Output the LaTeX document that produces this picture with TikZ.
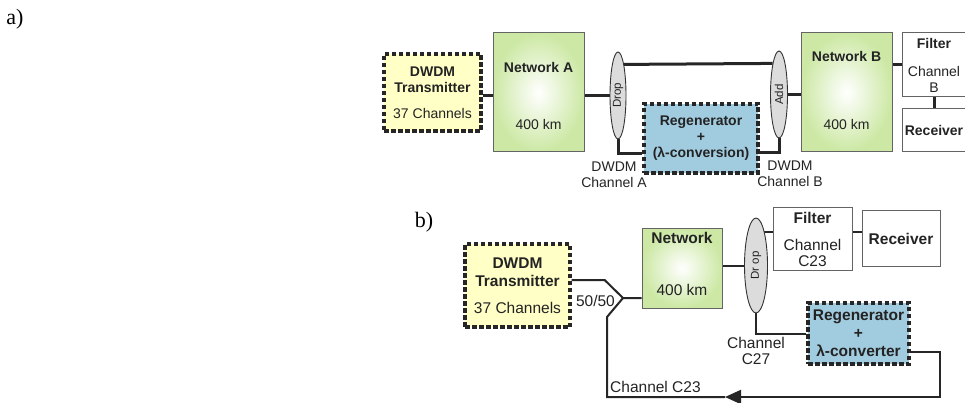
\documentclass[tikz,border=0pt]{standalone}
\usepackage{fontspec}
\setmainfont{Liberation Sans}
\newfontfamily\partfont{Liberation Serif}
\usetikzlibrary{positioning,shapes.geometric,arrows.meta,backgrounds}
\definecolor{txyellow}{RGB}{255,255,198}
\definecolor{netgreen}{RGB}{204,232,164}
\definecolor{regenblue}{RGB}{161,203,222}
\definecolor{oadmgrey}{RGB}{220,220,220}
\definecolor{inkgrey}{RGB}{35,35,35}
\definecolor{edgegrey}{RGB}{100,100,100}

\begin{document}
\begin{tikzpicture}[x=1pt, y=-1pt, font=\fontsize{14}{16}\selectfont, text=inkgrey,
        every node/.style={inner sep=0pt, align=center},
        dashbox/.style={draw=black!85, line width=3.2pt, dash pattern=on 4.5pt off 2.5pt},
        txbox/.style={dashbox, fill=txyellow},
        regenbox/.style={dashbox, fill=regenblue},
        netbox/.style={draw=edgegrey, line width=1pt, inner color=white, outer color=netgreen},
        plainbox/.style={draw=edgegrey, line width=1pt, fill=white},
        oadm/.style={ellipse, draw=black!80, line width=0.9pt, fill=oadmgrey},
        oadmtext/.style={rotate=90, font=\fontsize{11.5}{12}\selectfont},
        fibre/.style={draw=black!85, line width=3pt},
        thinfibre/.style={draw=black!85, line width=2pt},
        looptip/.style={-{Triangle[length=16pt,width=14pt]}},
        partlabel/.style={font=\partfont\fontsize{22}{24}\selectfont, text=black}]
            \path[use as bounding box] (0,0) rectangle (965,403);
            \clip (0,0) rectangle (965,403);

            % a)
            \node (parta) [partlabel] at (15,19) {a)};
            \node (txA) [txbox, minimum width=97pt, minimum height=77pt] at (432.5,92.5)
                {\textbf{DWDM}\\\textbf{Transmitter}\\[10pt]37 Channels};
            \node (netA) [netbox, minimum width=91pt, minimum height=119pt] at (538.5,92.5) {};
            \node (netAname) [below=30pt of netA.north] {\textbf{Network A}};
            \node (netAdist) [above=23pt of netA.south] {400 km};
            \node (dropA) [oadm, minimum width=16pt, minimum height=87pt] at (618,95.5) {};
            \node (dropAtext) [oadmtext] at (dropA) {Drop};
            \node (regenA) [regenbox, minimum width=114pt, minimum height=69pt] at (701,138.5)
                {\textbf{Regenerator}\\\textbf{+}\\\textbf{(λ-conversion)}};
            \node (addA) [oadm, minimum width=17pt, minimum height=87pt] at (779,94.5) {};
            \node (addAtext) [oadmtext] at (addA) {Add};
            \node (netB) [netbox, minimum width=91pt, minimum height=119pt] at (846.5,92.5) {};
            \node (netBname) [below=19pt of netB.north] {\textbf{Network B}};
            \node (netBdist) [above=23pt of netB.south] {400 km};
            \node (filterA) [plainbox, minimum width=64pt, minimum height=64pt] at (934,65)
                {\textbf{Filter}\\[12pt]Channel\\B};
            \node (rxA) [plainbox, minimum width=64pt, minimum height=43pt] at (934,130.5) {\textbf{Receiver}};
            \node (chanA) [below=22pt of dropA.south, xshift=-4pt] {DWDM\\Channel A};
            \node (chanB) [below=22pt of addA.south, xshift=11pt] {DWDM\\Channel B};

            \begin{scope}[on background layer]
                \draw[fibre] (txA.east |- dropA) -- (netA.west |- dropA);
                \draw[fibre] (netA.east |- dropA) -- (dropA.west);
                \draw[fibre] (dropA.north east) -- (addA.north west);
                \draw[fibre] (dropA.south) |- ([yshift=-15.5pt]regenA.west);
                \draw[fibre] (addA.south) |- ([yshift=-14.5pt]regenA.east);
                \draw[fibre] (addA.east) -- (addA.east -| netB.west);
                \draw[fibre] (netB.east |- filterA.west) -- (filterA.west);
                \draw[fibre] (filterA.south) -- (rxA.north);
            \end{scope}

            % b)
            \begin{scope}[font=\fontsize{15.5}{18}\selectfont]
                \node (partb) [partlabel] at (424,222) {b)};
                \node (txB) [txbox, minimum width=105pt, minimum height=83pt] at (517.5,285.5)
                    {\textbf{DWDM}\\\textbf{Transmitter}\\[9pt]37 Channels};
                \coordinate (split) at (623,298);
                \coordinate (loopR) at (940,397);
                \coordinate (loopTip) at (725,397);
                \coordinate (loopL) at (607,397);
                \node (netC) [netbox, minimum width=80pt, minimum height=80pt] at (682,268) {};
                \node (netCname) [below=5pt of netC.north] {\textbf{Network}};
                \node (netCdist) [above=12.5pt of netC.south] {400 km};
                \node (dropB) [oadm, minimum width=23pt, minimum height=95pt] at (756,265.5) {};
                \node (dropBtext) [oadmtext] at (dropB) {Dr op};
                \node (filterB) [plainbox, minimum width=79pt, minimum height=62pt] at (812.5,239)
                    {\textbf{Filter}\\[9pt]Channel\\[-2pt]C23};
                \node (rxB) [plainbox, minimum width=78pt, minimum height=55pt] at (901,238.5) {\textbf{Receiver}};
                \node (regenB) [regenbox, minimum width=101pt, minimum height=61pt] at (858.5,333.5)
                    {\textbf{Regenerator}\\\textbf{+}\\\textbf{λ-converter}};
                \node (ratio) [anchor=east] at ([xshift=-8pt,yshift=-3pt]split) {50/50};
                \node (chanC27) [below=23.5pt of dropB.south] {Channel\\[-2pt]C27};
                \node (chanC23) [anchor=base west] at ([xshift=3pt,yshift=4.5pt]loopL) {Channel C23};
            \end{scope}

            \begin{scope}[on background layer]
                \draw[thinfibre] ([yshift=5.5pt]txB.east) -- ++(33,0) -- (split) -- (split -| netC.west);
                \draw[thinfibre] (netC.east |- dropB) -- (dropB.west);
                \draw[thinfibre] (dropB.north east) -- (dropB.north east -| filterB.west);
                \draw[thinfibre] ([yshift=7pt]filterB.east) -- ([yshift=7pt]filterB.east -| rxB.west);
                \draw[thinfibre] (dropB.south) |- (regenB.west);
                \draw[thinfibre, looptip] ([yshift=-18.5pt]regenB.east) -| (loopR) -- (loopTip);
                \draw[thinfibre] (loopTip) -- (loopL) -- ++(0,-80) -- (split);
            \end{scope}
        \end{tikzpicture}
\end{document}
